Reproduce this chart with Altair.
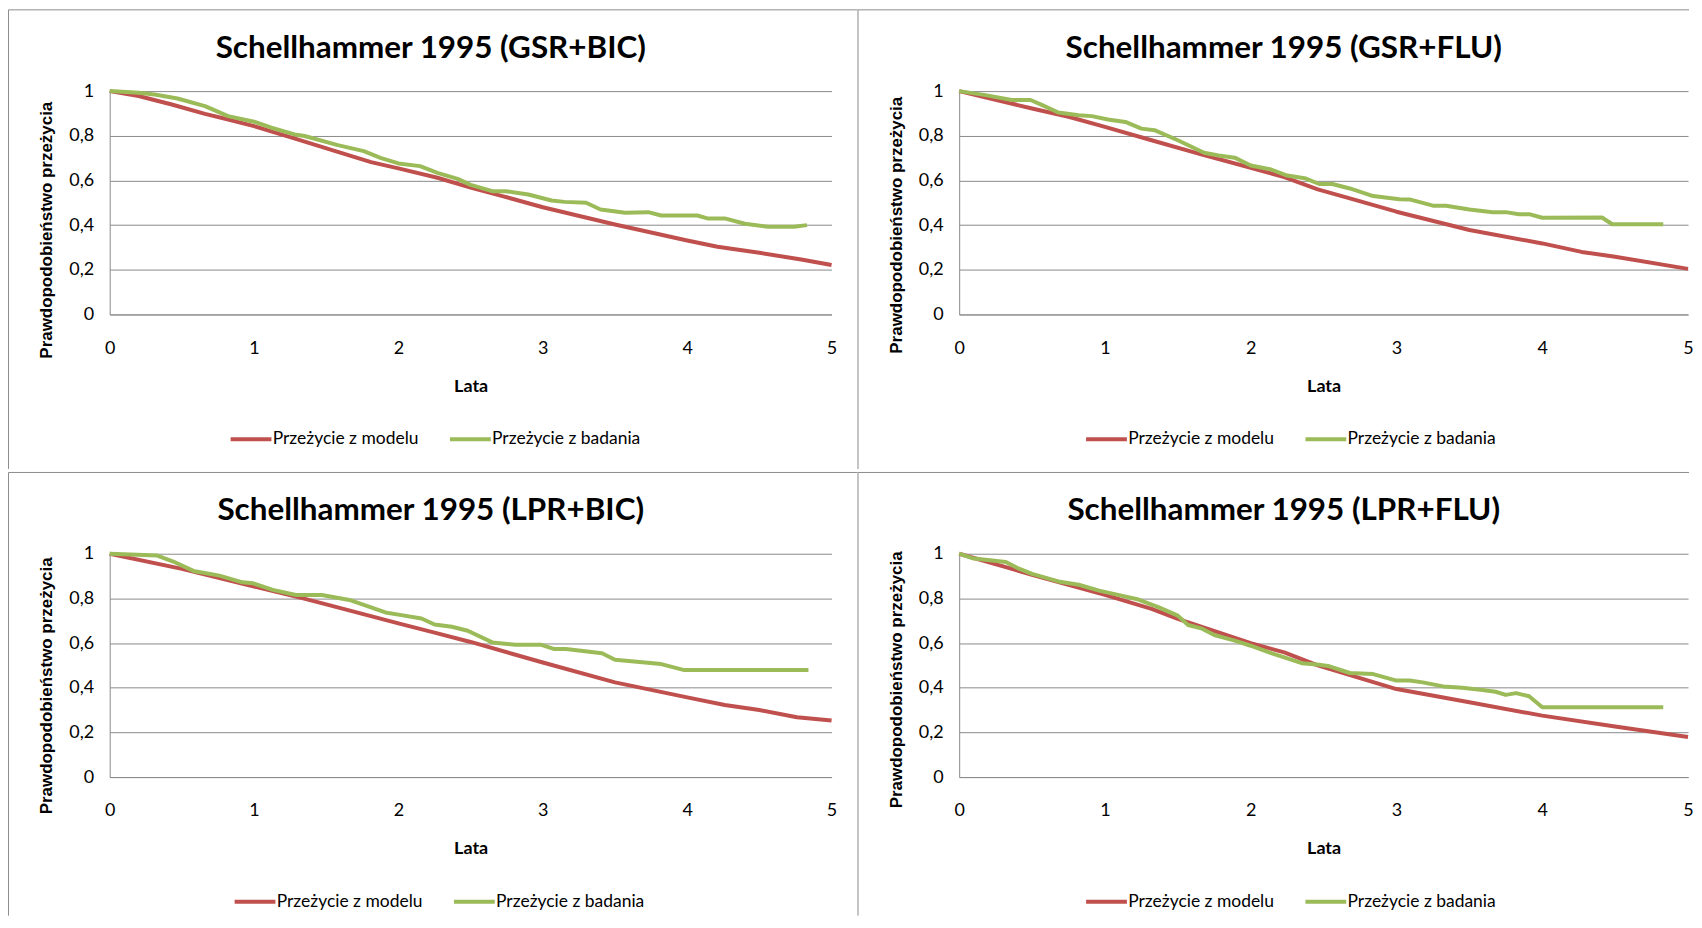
import altair as alt
import pandas as pd

# ---------------- data ----------------
TITLES = [
    "Schellhammer 1995 (GSR+BIC)",
    "Schellhammer 1995 (GSR+FLU)",
    "Schellhammer 1995 (LPR+BIC)",
    "Schellhammer 1995 (LPR+FLU)",
]
SERIES = ["Przeżycie z modelu", "Przeżycie z badania"]
X_TICKS = [0, 1, 2, 3, 4, 5]
Y_TICKS = [0, 0.2, 0.4, 0.6, 0.8, 1]
X_TITLE = "Lata"
Y_TITLE = "Prawdopodobieństwo  przeżycia"

# GSR+BIC
GB_MODEL_T = [0, 0.2, 0.43, 0.66, 0.8, 1.0, 1.25, 1.58, 1.81, 2.0, 2.27, 2.5, 2.72, 3.0, 3.5, 4.0, 4.21, 4.5, 4.79, 5.0]
GB_MODEL_S = [1.0, 0.978, 0.94, 0.898, 0.876, 0.843, 0.794, 0.728, 0.682, 0.654, 0.612, 0.568, 0.53, 0.48, 0.403, 0.331, 0.303, 0.276, 0.246, 0.221]
GB_STUDY_T = [0, 0.2, 0.31, 0.47, 0.66, 0.82, 1.0, 1.12, 1.28, 1.35, 1.58, 1.76, 1.88, 2.0, 2.15, 2.27, 2.41, 2.5, 2.65,
              2.74, 2.9, 3.06, 3.15, 3.3, 3.4, 3.57, 3.73, 3.82, 4.07, 4.14, 4.26, 4.4, 4.56, 4.74, 4.83]
GB_STUDY_S = [1.0, 0.993, 0.985, 0.967, 0.933, 0.888, 0.863, 0.836, 0.806, 0.799, 0.758, 0.731, 0.70, 0.676, 0.664, 0.634,
              0.607, 0.58, 0.552, 0.552, 0.537, 0.51, 0.504, 0.50, 0.47, 0.455, 0.458, 0.443, 0.443, 0.43, 0.43, 0.406,
              0.393, 0.393, 0.40]

# GSR+FLU
GF_MODEL_T = [0, 0.5, 0.75, 1.0, 1.32, 1.66, 2.0, 2.23, 2.46, 2.68, 3.0, 3.5, 4.0, 4.27, 4.5, 5.0]
GF_MODEL_S = [1.0, 0.922, 0.885, 0.84, 0.78, 0.717, 0.657, 0.615, 0.56, 0.52, 0.46, 0.378, 0.318, 0.28, 0.258, 0.204]
GF_STUDY_T = [0, 0.18, 0.36, 0.49, 0.57, 0.68, 0.82, 0.91, 1.02, 1.14, 1.25, 1.34, 1.5, 1.68, 1.78, 1.89, 2.0, 2.14,
              2.25, 2.37, 2.47, 2.56, 2.68, 2.84, 3.02, 3.09, 3.25, 3.34, 3.5, 3.66, 3.75, 3.84, 3.91, 4.0, 4.41,
              4.48, 4.83]
GF_STUDY_S = [1.0, 0.982, 0.96, 0.96, 0.937, 0.904, 0.892, 0.888, 0.873, 0.862, 0.832, 0.825, 0.78, 0.724, 0.712, 0.702,
              0.667, 0.649, 0.622, 0.61, 0.584, 0.584, 0.564, 0.53, 0.516, 0.515, 0.487, 0.487, 0.47, 0.458, 0.458,
              0.449, 0.449, 0.433, 0.434, 0.404, 0.404]

# LPR+BIC
LB_MODEL_T = [0, 0.5, 1.0, 1.34, 1.5, 2.0, 2.25, 2.5, 3.0, 3.5, 4.0, 4.26, 4.5, 4.76, 5.0]
LB_MODEL_S = [1.0, 0.932, 0.853, 0.80, 0.773, 0.688, 0.647, 0.605, 0.513, 0.424, 0.357, 0.323, 0.30, 0.268, 0.253]
LB_STUDY_T = [0, 0.19, 0.33, 0.44, 0.58, 0.76, 0.92, 0.99, 1.13, 1.29, 1.47, 1.66, 1.91, 2.02, 2.16, 2.25, 2.37, 2.48,
              2.65, 2.81, 2.99, 3.08, 3.16, 3.41, 3.5, 3.82, 3.98, 4.84]
LB_STUDY_S = [1.0, 0.995, 0.992, 0.965, 0.923, 0.902, 0.872, 0.868, 0.838, 0.815, 0.815, 0.793, 0.737, 0.725, 0.71,
              0.683, 0.673, 0.655, 0.603, 0.592, 0.592, 0.573, 0.573, 0.554, 0.525, 0.506, 0.479, 0.479]

# LPR+FLU
LF_MODEL_T = [0, 0.32, 0.5, 1.0, 1.32, 1.5, 2.0, 2.23, 2.46, 3.0, 3.5, 4.0, 4.5, 5.0]
LF_MODEL_S = [1.0, 0.94, 0.906, 0.816, 0.753, 0.708, 0.60, 0.558, 0.50, 0.394, 0.335, 0.275, 0.226, 0.179]
LF_STUDY_T = [0, 0.09, 0.18, 0.32, 0.41, 0.5, 0.68, 0.82, 0.96, 1.09, 1.23, 1.37, 1.5, 1.57, 1.66, 1.75, 1.89, 2.0,
              2.14, 2.23, 2.35, 2.47, 2.54, 2.68, 2.84, 3.0, 3.09, 3.18, 3.32, 3.45, 3.59, 3.68, 3.75, 3.82, 3.91,
              4.0, 4.83]
LF_STUDY_S = [1.0, 0.98, 0.973, 0.963, 0.933, 0.91, 0.876, 0.861, 0.835, 0.816, 0.795, 0.76, 0.723, 0.681, 0.666,
              0.636, 0.611, 0.588, 0.555, 0.536, 0.51, 0.503, 0.496, 0.466, 0.461, 0.432, 0.432, 0.424, 0.406, 0.40,
              0.39, 0.382, 0.368, 0.376, 0.362, 0.313, 0.313]

# ---------------- styling ----------------
FONT = "Lato, sans-serif"
YFONT = "Liberation Sans, Arial, sans-serif"
RED = "#C0504D"
GREEN = "#9BBB59"
GRID = "#8A8A8A"
FRAME = "#8C8C8C"


def panel(title, mt, ms, st, ss, width, height, title_y, legend_x, frame_right, frame_bottom, title_offset):
    df = pd.concat([
        pd.DataFrame({"lata": mt, "p": ms, "seria": SERIES[0]}),
        pd.DataFrame({"lata": st, "p": ss, "seria": SERIES[1]}),
    ], ignore_index=True)

    x = alt.X(
        "lata:Q",
        scale=alt.Scale(domain=[0, 5], nice=False),
        axis=alt.Axis(
            values=X_TICKS, title=X_TITLE, grid=False, ticks=False, domain=True,
            domainColor=GRID, domainWidth=1, labelFlush=False, labelPadding=25,
            labelFont=FONT, labelFontSize=18, labelColor="#000000",
            titleFont=FONT, titleFontSize=18, titleFontWeight="bold", titleColor="#000000",
            titleY=72, titleBaseline="middle",
        ),
    )
    y = alt.Y(
        "p:Q",
        scale=alt.Scale(domain=[0, 1], nice=False),
        axis=alt.Axis(
            values=Y_TICKS, title=Y_TITLE,
            labelExpr="replace(toString(datum.value), '.', ',')",
            grid=True, gridColor=GRID, gridWidth=1, ticks=False, domain=True,
            domainColor=GRID, domainWidth=1, labelPadding=16,
            labelFont=FONT, labelFontSize=18, labelColor="#000000",
            titleFont=YFONT, titleFontSize=17, titleFontWeight="bold", titleColor="#000000",
            titleX=-63, titleY=title_y, titleAngle=270, titleAlign="center", titleBaseline="middle",
        ),
    )
    color = alt.Color(
        "seria:N",
        scale=alt.Scale(domain=SERIES, range=[RED, GREEN]),
        legend=alt.Legend(
            title=None, orient="none", legendX=legend_x, legendY=340, direction="horizontal",
            symbolType="M-5,0H5", symbolSize=67, symbolStrokeWidth=4,
            labelFont=FONT, labelFontSize=17.5, labelColor="#000000", labelOffset=13,
            labelLimit=400, columnPadding=23, padding=0,
        ),
    )
    base = alt.Chart(df).mark_line(strokeWidth=4, strokeJoin="round").encode(x=x, y=y, color=color)
    red = base.transform_filter(alt.datum.seria == SERIES[0])
    green = base.transform_filter(alt.datum.seria == SERIES[1])

    one = pd.DataFrame({"k": [0]})
    top_line = alt.Chart(one).mark_rule(color=FRAME, strokeWidth=1).encode(
        x=alt.value(-101.5), x2=alt.value(frame_right), y=alt.value(-81.5)
    )
    left_line = alt.Chart(one).mark_rule(color=FRAME, strokeWidth=1).encode(
        x=alt.value(-101.5), y=alt.value(-81.5), y2=alt.value(frame_bottom)
    )

    return alt.layer(top_line, left_line, red, green).properties(
        width=width, height=height,
        title=alt.TitleParams(
            text=title, font=FONT, fontSize=31.5, fontWeight="bold", color="#000000",
            anchor="middle", frame="group", dx=-40, offset=title_offset, baseline="middle",
        ),
    )


p1 = panel(TITLES[0], GB_MODEL_T, GB_MODEL_S, GB_STUDY_T, GB_STUDY_S, 724, 224, 139, 133, 750, 379, -71)
p2 = panel(TITLES[1], GF_MODEL_T, GF_MODEL_S, GF_STUDY_T, GF_STUDY_S, 731, 224, 134, 139, 732, 379, -71)
p3 = panel(TITLES[2], LB_MODEL_T, LB_MODEL_S, LB_STUDY_T, LB_STUDY_S, 724, 224, 132, 137, 750, 363, -71)
p4 = panel(TITLES[3], LF_MODEL_T, LF_MODEL_S, LF_STUDY_T, LF_STUDY_S, 731, 224, 126, 139, 732, 363, -71)

chart = alt.concat(
    p1, p2, p3, p4, columns=2, spacing={"row": 240, "column": 128}, bounds="flush"
).resolve_scale(color="independent").properties(
    padding=0, background="#FFFFFF"
).configure_view(stroke=None)

chart.save("out.html", embed_options={"renderer": "svg", "actions": False})
